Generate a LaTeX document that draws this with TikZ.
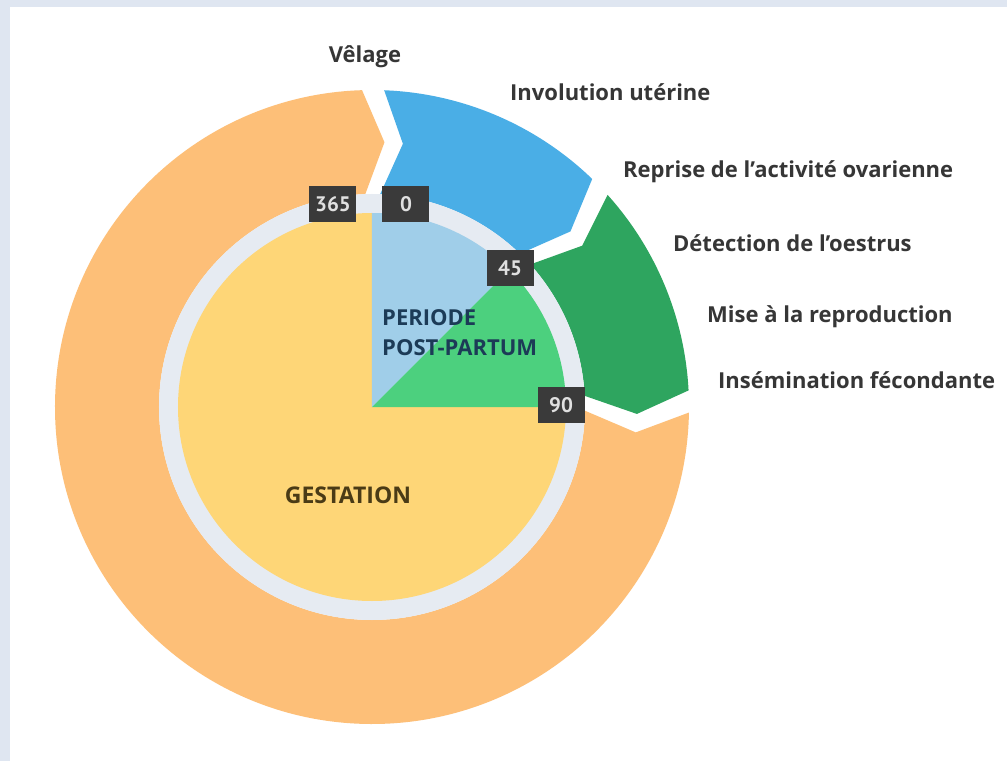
\documentclass[tikz,border=0pt]{standalone}
\usepackage{fontspec}
\setmainfont{Open Sans}
\newfontfamily\boxfont{PT Sans}
\definecolor{frame}{HTML}{DFE6F1}
\definecolor{orangering}{HTML}{FDBF78}
\definecolor{yellowpie}{HTML}{FED677}
\definecolor{blueseg}{HTML}{4AAEE6}
\definecolor{greenseg}{HTML}{2EA55F}
\definecolor{lightbluepie}{HTML}{A0CEE9}
\definecolor{lightgreenpie}{HTML}{4CD07E}
\definecolor{grayring}{HTML}{E6EBF2}
\definecolor{boxfill}{HTML}{3A3A3A}
\definecolor{labeltext}{HTML}{363636}
\definecolor{periodtext}{HTML}{1C3B57}
\definecolor{gesttext}{HTML}{4A3B16}
\tikzset{
  daybox/.style={fill=boxfill, text=white!88!black, minimum width=47pt, minimum height=36pt,
    inner sep=0pt, font=\boxfont\fontsize{21}{24}\selectfont\bfseries},
  eventlabel/.style={anchor=base west, inner sep=0pt, text=labeltext,
    font=\fontsize{22}{26}\selectfont\bfseries},
  pielabel/.style={inner sep=0pt, font=\fontsize{22}{26}\selectfont\bfseries},
}
\newcommand\ringseg[3]{%
  \fill[#3] (#1:\Ro) arc[start angle=#1, end angle=#2, radius=\Ro]
    -- ({#2-\dd}:\Rm) -- (#2:\Ri)
    arc[start angle=#2, end angle=#1, radius=\Ri]
    -- ({#1-\dd}:\Rm) -- cycle;}
\begin{document}
\begin{tikzpicture}[x=1pt,y=1pt]
\def\Ri{213}\def\Ro{317}\def\Rm{265}\def\dd{4.5}\def\Rp{194}
\useasboundingbox (-372,-354) rectangle (635,407);
\fill[frame] (-372,-354) rectangle (635,407);
\fill[white] (-362,-354) rectangle (635,400);
% outer ring segments
\ringseg{87.8}{46}{blueseg}
\ringseg{42}{3}{greenseg}
\ringseg{-1}{-268.2}{orangering}
% gray ring
\fill[grayring] (0,0) circle[radius=\Ri];
% inner pie
\fill[yellowpie] (0,0) -- (90:\Rp) arc[start angle=90, end angle=360, radius=\Rp] -- cycle;
\fill[lightbluepie] (0,0) -- (45:\Rp) arc[start angle=45, end angle=90, radius=\Rp] -- cycle;
\fill[lightgreenpie] (0,0) -- (0:\Rp) arc[start angle=0, end angle=45, radius=\Rp] -- cycle;
% day boxes
\node[daybox] (d365) at (-39,203) {365};
\node[daybox] (d0) at (34,203) {0};
\node[daybox] (d45) at (138,139) {45};
\node[daybox] (d90) at (189,2) {90};
% pie labels
\node[pielabel, anchor=base west, text=periodtext] (per1) at (10,82) {PERIODE};
\node[pielabel, anchor=base west, text=periodtext] (per2) at (10,52) {POST-PARTUM};
\node[pielabel, anchor=base, text=gesttext, font=\fontsize{23}{27}\selectfont\bfseries] (gest) at (-24,-96) {GESTATION};
% event labels
\node[eventlabel, anchor=base] (velage) at (-7,344) {Vêlage};
\node[eventlabel] (invol) at (138,306) {Involution utérine};
\node[eventlabel] (reprise) at (251,229) {Reprise de l’activité ovarienne};
\node[eventlabel] (detect) at (301,155) {Détection de l’oestrus};
\node[eventlabel] (mise) at (335,85) {Mise à la reproduction};
\node[eventlabel] (insem) at (346,19) {Insémination fécondante};
\end{tikzpicture}
\end{document}
